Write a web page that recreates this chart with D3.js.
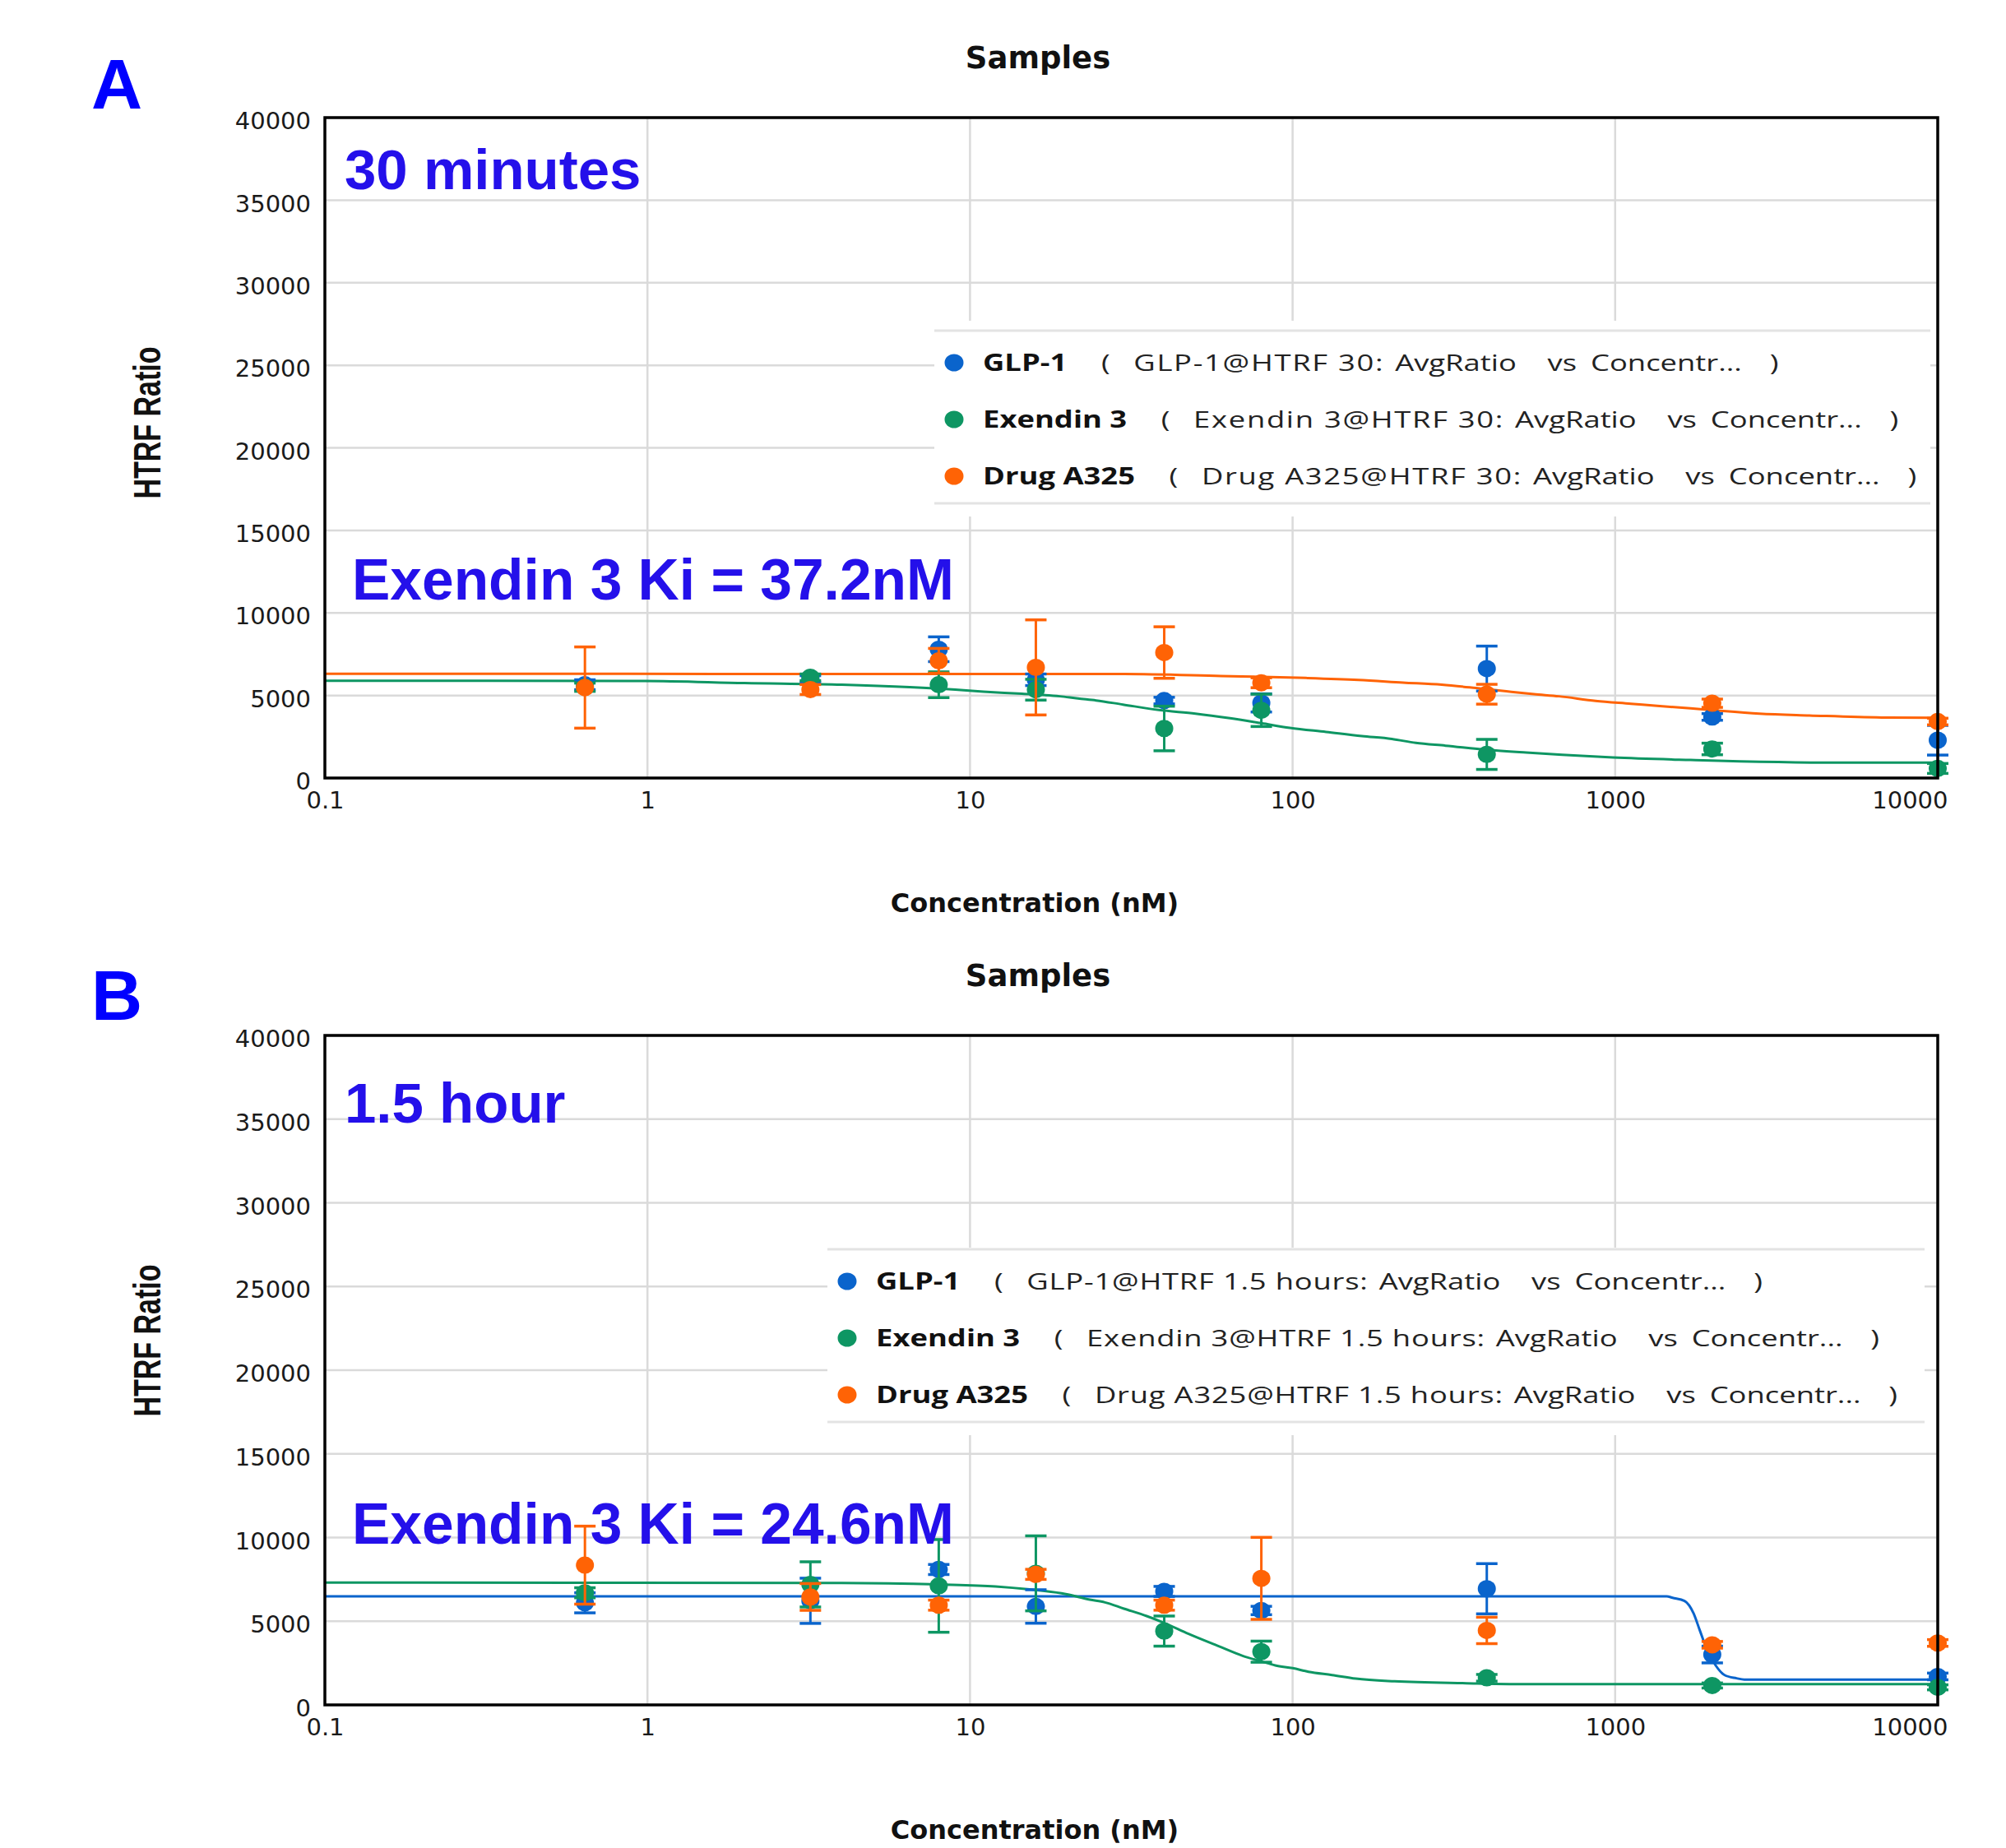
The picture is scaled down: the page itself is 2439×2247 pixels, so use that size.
<!DOCTYPE html>
<html>
<head>
<meta charset="utf-8">
<script src="https://cdn.jsdelivr.net/npm/d3@7"></script>
<style>
  body { margin: 0; background: #fff; }
  svg { display: block; }
</style>
</head>
<body>
<script>
// set the dimensions of the page
var width = 2439,
    height = 2247;

// concentrations (nM) of the dilution series
var conc = [0.64, 3.2, 8, 16, 40, 80, 400, 2000, 10000];

var seriesNames = ["GLP-1", "Exendin 3", "Drug A325"];
var seriesColors = ["#0a64cc", "#0e9663", "#ff6305"];

// axis ticks
var xTicks = [0.1, 1, 10, 100, 1000, 10000];
var xTickLabels = ["0.1", "1", "10", "100", "1000", "10000"];
var yTicks = [0, 5000, 10000, 15000, 20000, 25000, 30000, 35000, 40000];

// A: 30 minutes -- mean HTRF ratio and error
var glpA      = [5650, 6000, 7800, 5950, 4690, 4550, 6630, 3700, 2290];
var glpErrA   = [300, 200, 750, 350, 200, 550, 1360, 200, 900];
var exA       = [5500, 6100, 5650, 5350, 3000, 4100, 1430, 1760, 580];
var exErrA    = [250, 200, 780, 630, 1350, 980, 910, 350, 300];
var drugA     = [5480, 5360, 7100, 6700, 7600, 5770, 5075, 4530, 3420];
var drugErrA  = [2460, 300, 750, 2880, 1560, 300, 600, 250, 200];

// B: 1.5 hour
var glpB      = [6100, 6220, 8090, 5880, 6780, 5640, 6940, 3010, 1700];
var glpErrB   = [600, 1350, 300, 1000, 300, 250, 1500, 500, 200];
var exB       = [6700, 7200, 7110, 7860, 4410, 3180, 1620, 1160, 1050];
var exErrB    = [300, 1350, 2770, 2240, 900, 630, 200, 150, 150];
var drugB     = [8350, 6450, 5960, 7800, 5960, 7560, 4450, 3590, 3700];
var drugErrB  = [2330, 800, 300, 300, 300, 2450, 790, 200, 200];

// fitted curves as [concentration, ratio]
var fitExendinA = [[0.1, 5890], [0.98, 5880], [2, 5750], [4, 5650], [6.5, 5500], [9, 5350],
  [11, 5230], [14.5, 5100], [19, 4950], [21.6, 4815], [24.6, 4700], [29.8, 4450], [38.5, 4120],
  [50, 3900], [64, 3620], [80, 3320], [98, 3040], [127, 2790], [164, 2540], [203, 2370],
  [241, 2125], [298, 1960], [402, 1710], [530, 1545], [685, 1410], [985, 1245], [1713, 1095],
  [4886, 930], [10000, 930]];
var fitDrugA = [[0.1, 6310], [30, 6300], [60, 6180], [110, 6060], [160, 5940], [220, 5780],
  [290, 5650], [370, 5450], [460, 5250], [560, 5080], [670, 4950], [870, 4670], [1120, 4500],
  [1350, 4370], [1900, 4150], [2800, 3900], [4000, 3790], [7000, 3660], [10000, 3650]];
var fitGlpB = [[0.1, 6490], [1444, 6490], [1506, 6400], [1641, 6210], [1750, 5470], [1827, 4490],
  [1922, 3340], [2049, 2360], [2184, 1780], [2379, 1590], [2515, 1510], [10000, 1510]];
var fitExendinB = [[0.1, 7306], [4, 7290], [8, 7200], [12, 7080], [15.3, 6900], [19.8, 6620],
  [23.5, 6290], [26.2, 6126], [30, 5750], [35.3, 5307], [40, 4900], [47.6, 4240], [59, 3505],
  [70, 2930], [80, 2600], [88.4, 2360], [100, 2195], [112, 1980], [132.6, 1786], [157, 1572],
  [207, 1409], [346, 1294], [497, 1245], [10000, 1245]];

var panels = [
  { letter: "A", top: 143, bottom: 946, time: "30 minutes", timeY: 230,
    ki: "Exendin 3 Ki = 37.2nM", kiY: 729, suffix: "30",
    legend: { left: 1136, right: 2347, top: 402, gapAbove: 12, spacing: 1.3 },
    values: [glpA, exA, drugA], errs: [glpErrA, exErrA, drugErrA],
    fits: [null, fitExendinA, fitDrugA] },
  { letter: "B", top: 1259, bottom: 2073, time: "1.5 hour", timeY: 1365,
    ki: "Exendin 3 Ki = 24.6nM", kiY: 1877, suffix: "1.5 hours",
    legend: { left: 1006, right: 2340, top: 1519, gapAbove: 2, spacing: 0.6 },
    values: [glpB, exB, drugB], errs: [glpErrB, exErrB, drugErrB],
    fits: [fitGlpB, fitExendinB, null] }
];

var svg = d3.select("body").append("svg")
    .attr("width", width)
    .attr("height", height);

svg.append("rect")
    .attr("width", width)
    .attr("height", height)
    .attr("fill", "#fff");

var plotLeft = 395, plotRight = 2356;

panels.forEach(function(p) {
  var xScale = d3.scaleLog().domain([0.1, 10000]).range([plotLeft, plotRight]);
  var yScale = d3.scaleLinear().domain([0, 40000]).range([p.bottom, p.top]);
  var g = svg.append("g");

  // gridlines
  g.selectAll(".hgrid").data(yTicks).enter().append("line")
      .attr("x1", plotLeft).attr("x2", plotRight)
      .attr("y1", d => yScale(d)).attr("y2", d => yScale(d))
      .attr("stroke", "#dadada").attr("stroke-width", 2.5);
  g.selectAll(".vgrid").data(xTicks).enter().append("line")
      .attr("x1", d => xScale(d)).attr("x2", d => xScale(d))
      .attr("y1", p.top).attr("y2", p.bottom)
      .attr("stroke", "#dadada").attr("stroke-width", 2.5);

  // legend box hides the gridlines behind it
  var L = p.legend;
  var lg = g.append("g");
  lg.append("rect")
      .attr("x", L.left).attr("y", L.top - L.gapAbove)
      .attr("width", L.right - L.left).attr("height", 210 + L.gapAbove + 16)
      .attr("fill", "#fff");
  [0, 210].forEach(function(off) {
    lg.append("line")
        .attr("x1", L.left).attr("x2", L.right)
        .attr("y1", L.top + off).attr("y2", L.top + off)
        .attr("stroke", "#e3e3e3").attr("stroke-width", 3);
  });
  seriesNames.forEach(function(name, i) {
    var cy = L.top + 39 + i * 69;
    lg.append("ellipse")
        .attr("cx", L.left + 24).attr("cy", cy)
        .attr("rx", 11.5).attr("ry", 10.5)
        .attr("fill", seriesColors[i]);
    var t = lg.append("text")
        .attr("transform", "translate(" + (L.left + 59) + "," + (cy + 10) + ") scale(1.3,1)")
        .attr("font-family", "'Open Sans', sans-serif")
        .attr("font-size", 28)
        .attr("fill", "#222");
    t.append("tspan").attr("font-weight", "bold").attr("fill", "#111").text(name);
    t.append("tspan").attr("dx", 32).text("(");
    t.append("tspan").attr("dx", 22).attr("letter-spacing", L.spacing)
        .text(name + "@HTRF " + p.suffix + ":");
    t.append("tspan").attr("dx", 10).attr("letter-spacing", 0).text("AvgRatio");
    t.append("tspan").attr("dx", 29).text("vs");
    t.append("tspan").attr("dx", 13).text("Concentr...");
    t.append("tspan").attr("dx", 26).text(")");
  });

  // fitted curves
  var line = d3.line()
      .x(d => xScale(d[0]))
      .y(d => yScale(d[1]))
      .curve(d3.curveMonotoneX);
  p.fits.forEach(function(fit, i) {
    if (!fit) return;
    g.append("path")
        .datum(fit)
        .attr("fill", "none")
        .attr("stroke", seriesColors[i])
        .attr("stroke-width", 3)
        .attr("d", line);
  });

  // error bars and points
  p.values.forEach(function(vals, i) {
    var errs = p.errs[i];
    var pts = vals.map((v, j) => ({ c: conc[j], v: v, e: errs[j] }));
    var s = g.append("g").attr("stroke", seriesColors[i]).attr("fill", seriesColors[i]);
    s.selectAll(".bar").data(pts).enter().append("line")
        .attr("x1", d => xScale(d.c)).attr("x2", d => xScale(d.c))
        .attr("y1", d => yScale(d.v - d.e)).attr("y2", d => yScale(d.v + d.e))
        .attr("stroke-width", 3);
    s.selectAll(".capTop").data(pts).enter().append("line")
        .attr("x1", d => xScale(d.c) - 13).attr("x2", d => xScale(d.c) + 13)
        .attr("y1", d => yScale(d.v + d.e)).attr("y2", d => yScale(d.v + d.e))
        .attr("stroke-width", 3.5);
    s.selectAll(".capBot").data(pts).enter().append("line")
        .attr("x1", d => xScale(d.c) - 13).attr("x2", d => xScale(d.c) + 13)
        .attr("y1", d => yScale(d.v - d.e)).attr("y2", d => yScale(d.v - d.e))
        .attr("stroke-width", 3.5);
    s.selectAll(".dot").data(pts).enter().append("ellipse")
        .attr("cx", d => xScale(d.c)).attr("cy", d => yScale(d.v))
        .attr("rx", 11).attr("ry", 10.5)
        .attr("stroke", "none");
  });

  // frame
  g.append("rect")
      .attr("x", plotLeft).attr("y", p.top)
      .attr("width", plotRight - plotLeft).attr("height", p.bottom - p.top)
      .attr("fill", "none").attr("stroke", "#000").attr("stroke-width", 3.5);

  // y axis
  var yAxis = g.append("g")
      .attr("transform", "translate(" + plotLeft + ",0)")
      .call(d3.axisLeft(yScale).tickValues(yTicks).tickSize(0).tickPadding(17).tickFormat(d3.format("d")));
  yAxis.select(".domain").remove();
  yAxis.selectAll("text")
      .attr("dy", "0.47em")
      .attr("font-family", "'DejaVu Sans', sans-serif")
      .attr("font-size", 29)
      .attr("fill", "#1a1a1a");

  // x axis
  var xAxis = g.append("g")
      .attr("transform", "translate(0," + p.bottom + ")")
      .call(d3.axisBottom(xScale).tickValues(xTicks).tickSize(0).tickPadding(16)
          .tickFormat((d, i) => xTickLabels[i]));
  xAxis.select(".domain").remove();
  xAxis.selectAll("text")
      .attr("font-family", "'DejaVu Sans', sans-serif")
      .attr("font-size", 29)
      .attr("fill", "#1a1a1a");
  xAxis.selectAll("text").filter((d, i) => i === xTicks.length - 1)
      .attr("text-anchor", "end").attr("dx", 12);

  // titles
  g.append("text")
      .attr("x", 1262).attr("y", p.top - 60)
      .attr("text-anchor", "middle")
      .attr("font-family", "'DejaVu Sans', sans-serif")
      .attr("font-weight", "bold").attr("font-size", 37)
      .attr("fill", "#111")
      .text("Samples");
  g.append("text")
      .attr("x", 1258).attr("y", p.bottom + 163)
      .attr("text-anchor", "middle")
      .attr("font-family", "'DejaVu Sans', sans-serif")
      .attr("font-weight", "bold").attr("font-size", 32)
      .attr("fill", "#111")
      .text("Concentration (nM)");
  g.append("text")
      .attr("transform", "translate(195," + (p.top + 371) + ") rotate(-90) scale(1,1.35)")
      .attr("text-anchor", "middle")
      .attr("font-family", "'Liberation Sans', Arial, sans-serif")
      .attr("font-weight", "bold").attr("font-size", 34)
      .attr("fill", "#111")
      .text("HTRF Ratio");

  // panel letter and annotations
  g.append("text")
      .attr("x", 111).attr("y", p.letter === "A" ? 132 : 1240)
      .attr("font-family", "'Liberation Sans', Arial, sans-serif")
      .attr("font-weight", "bold").attr("font-size", 86)
      .attr("fill", "#0000ff")
      .text(p.letter);
  g.append("text")
      .attr("x", 419).attr("y", p.timeY)
      .attr("font-family", "'Liberation Sans', Arial, sans-serif")
      .attr("font-weight", "bold").attr("font-size", 69)
      .attr("fill", "#2410ea")
      .text(p.time);
  g.append("text")
      .attr("x", 428).attr("y", p.kiY)
      .attr("font-family", "'Liberation Sans', Arial, sans-serif")
      .attr("font-weight", "bold").attr("font-size", 69.5)
      .attr("fill", "#2410ea")
      .text(p.ki);
});
</script>
</body>
</html>
